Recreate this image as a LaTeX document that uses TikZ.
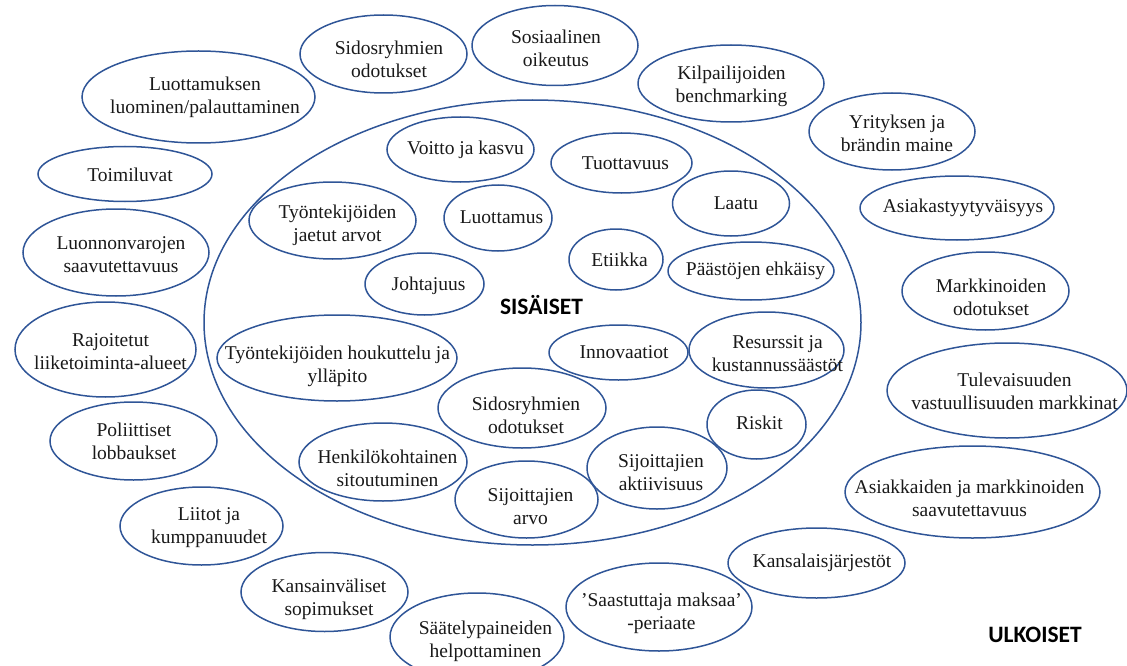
\documentclass[tikz,border=0pt]{standalone}
\usepackage{fontspec}
\setmainfont{Liberation Serif}
\newfontfamily\bodyserif{Liberation Serif}
\newfontfamily\zonefont{Carlito}
\usetikzlibrary{shapes.geometric}
\definecolor{ringblue}{RGB}{47,85,151}
\definecolor{inktext}{RGB}{25,25,25}
\tikzset{
  ring/.style={draw=ringblue, line width=1.5pt, ellipse, inner sep=0pt},
  caption/.style={align=center, inner sep=0pt, text=inktext,
    font=\bodyserif\fontsize{19.5}{23}\selectfont},
  zonelabel/.style={inner sep=0pt, text=black,
    font=\zonefont\bfseries\fontsize{23.5}{28}\selectfont}
}
% \ringnode{name}{x}{y}{rx}{ry}{text dx}{text dy}{text}
\newcommand\ringnode[8]{%
  \node[ring, minimum width={2*#4pt}, minimum height={2*#5pt}] (#1) at (#2,#3) {};
  \node[caption] (#1-text) at ([shift={(#6,#7)}]#1.center) {#8};
}
\begin{document}
\begin{tikzpicture}[x=1pt, y=-1pt]
\useasboundingbox (0,0) rectangle (1127,666);

% inner area
\node[ring, minimum width=657pt, minimum height=445pt] (inner) at (532.5,322.5) {};
\node[zonelabel] (inner-label) at (541.5,305) {SISÄISET};
\node[zonelabel] (outer-label) at (1035,635) {ULKOISET};

% internal factors
\ringnode{voit}{460.5}{149.5}{73.5}{32.5}{5}{0}{Voitto ja kasvu}
\ringnode{tuot}{621.5}{163}{70.5}{30}{4}{0}{Tuottavuus}
\ringnode{laat}{731}{203.5}{58.5}{32.5}{5}{0}{Laatu}
\ringnode{tyoj}{332.5}{220.5}{83.5}{38.5}{5}{5}{Työntekijöiden\\jaetut arvot}
\ringnode{luotm}{498}{218}{54}{33}{3.5}{-1}{Luottamus}
\ringnode{etii}{616}{259.5}{47}{30.5}{3.5}{0}{Etiikka}
\ringnode{paas}{751}{271}{83}{29}{4.5}{0}{Päästöjen ehkäisy}
\ringnode{joht}{424.5}{284}{59.5}{31}{4}{2}{Johtajuus}
\ringnode{tyoh}{337}{358}{120}{43}{0.5}{8}{Työntekijöiden houkuttelu ja\\ylläpito}
\ringnode{inno}{618.5}{352.5}{69.5}{27.5}{5.5}{0}{Innovaatiot}
\ringnode{resu}{766.5}{350}{77.5}{38}{11}{4}{Resurssit ja\\kustannussäästöt}
\ringnode{sidi}{522}{408}{84}{40}{4}{7}{Sidosryhmien\\odotukset}
\ringnode{risk}{756.5}{424.5}{49.5}{34.5}{3}{-2}{Riskit}
\ringnode{henk}{383}{462}{84}{39}{4.5}{6}{Henkilökohtainen\\sitoutuminen}
\ringnode{sija}{526.5}{499.5}{71.5}{38.5}{4}{7}{Sijoittajien\\arvo}
\ringnode{sijk}{657}{468}{70}{41}{4}{5}{Sijoittajien\\aktiivisuus}

% external factors
\ringnode{luot}{198.5}{97}{116.5}{46}{6.5}{0}{Luottamuksen\\luominen/palauttaminen}
\ringnode{sidu}{383.5}{54}{83.5}{39}{5.5}{5}{Sidosryhmien\\odotukset}
\ringnode{sos}{555}{45.5}{83}{40}{1}{2.5}{Sosiaalinen\\oikeutus}
\ringnode{kilp}{731}{83.5}{93}{38.5}{0.5}{3}{Kilpailijoiden\\benchmarking}
\ringnode{yrit}{892}{131.5}{83}{38.5}{5}{2}{Yrityksen ja\\brändin maine}
\ringnode{asty}{957}{208}{97}{32}{6}{0}{Asiakastyytyväisyys}
\ringnode{mark}{985.5}{291}{83.5}{39}{5.5}{6}{Markkinoiden\\odotukset}
\ringnode{tulev}{1007}{390.5}{120}{47.5}{7.5}{1}{Tulevaisuuden\\vastuullisuuden markkinat}
\ringnode{asmk}{972.5}{492}{127.5}{46}{-3}{6}{Asiakkaiden ja markkinoiden\\saavutettavuus}
\ringnode{kans}{816.5}{563}{88.5}{35}{5.5}{0}{Kansalaisjärjestöt}
\ringnode{saas}{659}{607}{93}{44}{2.5}{6}{’Saastuttaja maksaa’\\-periaate}
\ringnode{saat}{477}{637}{87}{44}{8.5}{4}{Säätelypaineiden\\helpottaminen}
\ringnode{kvs}{324.5}{592}{83.5}{39.5}{4.5}{7}{Kansainväliset\\sopimukset}
\ringnode{liit}{201.5}{526}{81.5}{39}{7.5}{2}{Liitot ja\\kumppanuudet}
\ringnode{pol}{133.5}{441}{83.5}{39}{0.5}{0}{Poliittiset\\lobbaukset}
\ringnode{raj}{105.5}{349.5}{90.5}{47.5}{5}{2}{Rajoitetut\\liiketoiminta-alueet}
\ringnode{luon}{116}{252.5}{93}{43.5}{5}{2.5}{Luonnonvarojen\\saavutettavuus}
\ringnode{toim}{125}{174}{87}{27.5}{5}{1}{Toimiluvat}
\end{tikzpicture}
\end{document}
